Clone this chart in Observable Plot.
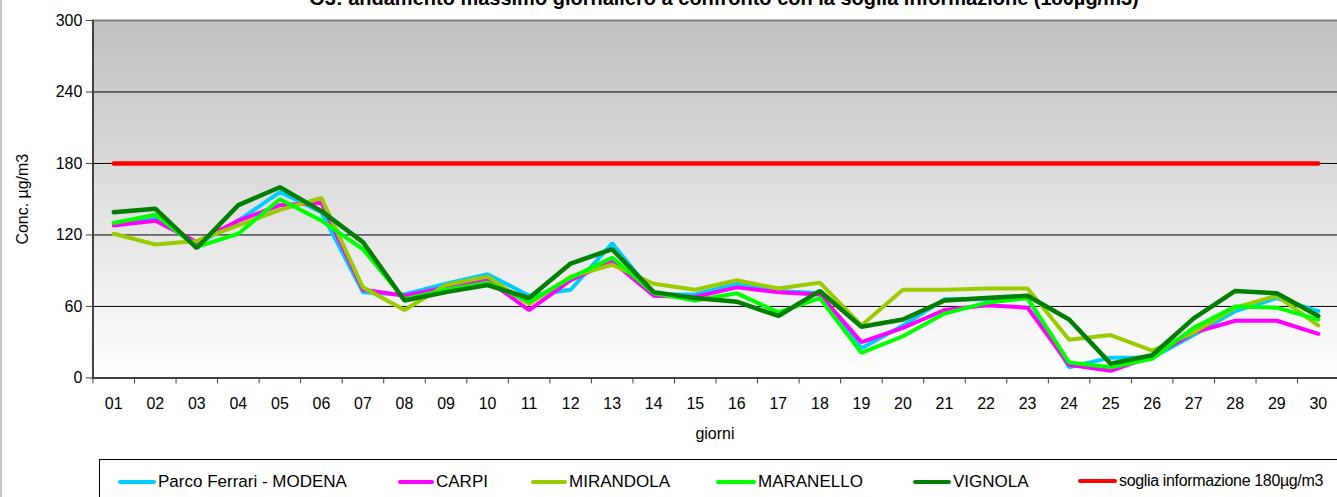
<!DOCTYPE html>
<html>
<head>
<meta charset="utf-8">
<script src="https://cdn.jsdelivr.net/npm/d3@7"></script>
<script src="https://cdn.jsdelivr.net/npm/@observablehq/plot@0.6"></script>
<style>
  html, body { margin: 0; padding: 0; background: #fff; }
  #wrap { position: relative; width: 1337px; height: 497px; overflow: hidden; font-family: "Liberation Sans", Arial, sans-serif; border-left: 2px solid #c8c8c8; box-sizing: border-box; }
  #title { position: absolute; top: -12px; left: 722px; transform: translateX(-50%); white-space: nowrap; font-weight: bold; font-size: 20px; line-height: 20px; color: #000; }
  #chart { position: absolute; left: -2px; top: 0; }
  #legend { position: absolute; left: 97px; top: 459px; width: 1300px; height: 60px; border: 1.5px solid #000; background: #fff; }
  .item { position: absolute; top: 12px; display: flex; align-items: center; font-size: 17px; color: #000; white-space: nowrap; }
  .sw { width: 38px; height: 4px; border-radius: 2px; margin-right: 2px; }
</style>
</head>
<body>
<div id="wrap">
  <div id="chart"></div>
  <div id="title"></div>
  <div id="legend"></div>
</div>
<script>
const titleText = "O3: andamento massimo giornaliero a confronto con la soglia informazione (180µg/m3)";
const yLabel = "Conc. µg/m3";
const xLabel = "giorni";
const days = d3.range(1, 31);
const dayLabels = days.map(d => String(d).padStart(2, "0"));
const yTicks = [0, 60, 120, 180, 240, 300];

const seriesNames = ["Parco Ferrari - MODENA", "CARPI", "MIRANDOLA", "MARANELLO", "VIGNOLA", "soglia informazione 180µg/m3"];
const seriesColors = ["#00CCFF", "#FF00FF", "#99CC00", "#00FF00", "#008000", "#FF0000"];

const modena    = [130,135,112,132,156,139,72,70,79,87,69,74,113,70,70,79,73,71,25,44,66,66,67,9,17,17,36,56,67,56];
const carpi     = [128,132,114,132,145,147,74,69,76,82,57,82,98,69,68,76,72,70,30,42,57,61,59,11,6,18,38,48,48,37];
const mirandola = [121,112,115,128,141,151,76,57,78,85,62,85,95,79,74,82,75,80,44,74,74,75,75,32,36,23,38,59,69,44];
const maranello = [130,137,110,121,150,132,108,66,74,80,64,84,101,71,65,71,55,67,21,35,54,63,67,13,9,16,42,60,59,49];
const vignola   = [139,142,109,145,160,140,114,65,72,78,67,96,108,72,67,64,52,73,43,49,65,67,69,49,12,19,50,73,71,52];
const soglia    = days.map(() => 180);

const allSeries = [modena, carpi, mirandola, maranello, vignola, soglia];
const rows = [];
allSeries.forEach((vals, si) => vals.forEach((v, i) => rows.push({series: seriesNames[si], day: days[i], value: v})));

const xMin = 0.5, xMax = 30.5;
const boundaries = d3.range(0, 31).map(i => i + 0.5);

const defsMark = () => {
  const defs = d3.create("svg:defs");
  const g = defs.append("linearGradient").attr("id", "bg").attr("x1", 0).attr("y1", 0).attr("x2", 0).attr("y2", 1);
  g.append("stop").attr("offset", "0%").attr("stop-color", "#c0c0c0");
  g.append("stop").attr("offset", "100%").attr("stop-color", "#ffffff");
  return defs.node();
};

const widthFor = s => s === "VIGNOLA" ? 4.5 : s.startsWith("soglia") ? 4.5 : 4;

const plot = Plot.plot({
  width: 1339,
  height: 459,
  marginTop: 20,
  marginBottom: 81,
  marginLeft: 92,
  marginRight: 0,
  style: {fontFamily: "Liberation Sans, Arial, sans-serif", fontSize: "16px", color: "#000", background: "transparent", overflow: "visible"},
  x: {domain: [xMin, xMax], range: [92.6, 1340.6]},
  y: {domain: [0, 300]},
  marks: [
    defsMark,
    Plot.rect([0], {x1: xMin, x2: xMax, y1: 0, y2: 300, fill: "url(#bg)"}),
    Plot.ruleY([60, 120, 180, 240], {stroke: "#000", strokeWidth: 1}),
    Plot.ruleY([300], {stroke: "#808080", strokeWidth: 2}),
    Plot.axisY({ticks: yTicks, tickSize: 6, tickPadding: 4, label: null, fontSize: 16, stroke: "#404040"}),
    Plot.axisX({ticks: boundaries, tickSize: 6, tickFormat: () => "", label: null, stroke: "#404040"}),
    Plot.axisX({ticks: days, tickSize: 0, tickPadding: 20, tickFormat: d => dayLabels[d - 1], label: null, fontSize: 16}),
    Plot.ruleX([xMin], {stroke: "#404040", strokeWidth: 2}),
    Plot.ruleY([0], {stroke: "#404040", strokeWidth: 2}),
    Plot.lineY(rows, {
      x: "day", y: "value", z: "series",
      stroke: d => seriesColors[seriesNames.indexOf(d.series)],
      strokeWidth: d => widthFor(d.series),
      strokeLinecap: "round", strokeLinejoin: "miter"
    }),
    Plot.text([xLabel], {frameAnchor: "bottom", dy: 61, fontSize: 16, fill: "#000", textAnchor: "middle"}),
    Plot.text([yLabel], {frameAnchor: "left", dx: -70, rotate: -90, fontSize: 16, fill: "#000", textAnchor: "middle"})
  ]
});
document.getElementById("chart").appendChild(plot);
document.getElementById("title").textContent = titleText;

const legendX = [[18, 58], [298, 336], [431, 469], [616, 658], [813, 853], [978, 1019]];
const legend = document.getElementById("legend");
seriesNames.forEach((name, i) => {
  const it = document.createElement("div");
  it.className = "item";
  it.style.left = legendX[i][0] + "px";
  const sw = document.createElement("div");
  sw.className = "sw";
  sw.style.background = seriesColors[i];
  sw.style.width = (legendX[i][1] - legendX[i][0] - 2) + "px";
  const tx = document.createElement("span");
  tx.textContent = name;
  if (i === 5) { tx.style.fontSize = "16px"; tx.style.letterSpacing = "-0.35px"; }
  it.appendChild(sw);
  it.appendChild(tx);
  legend.appendChild(it);
});
</script>
</body>
</html>
